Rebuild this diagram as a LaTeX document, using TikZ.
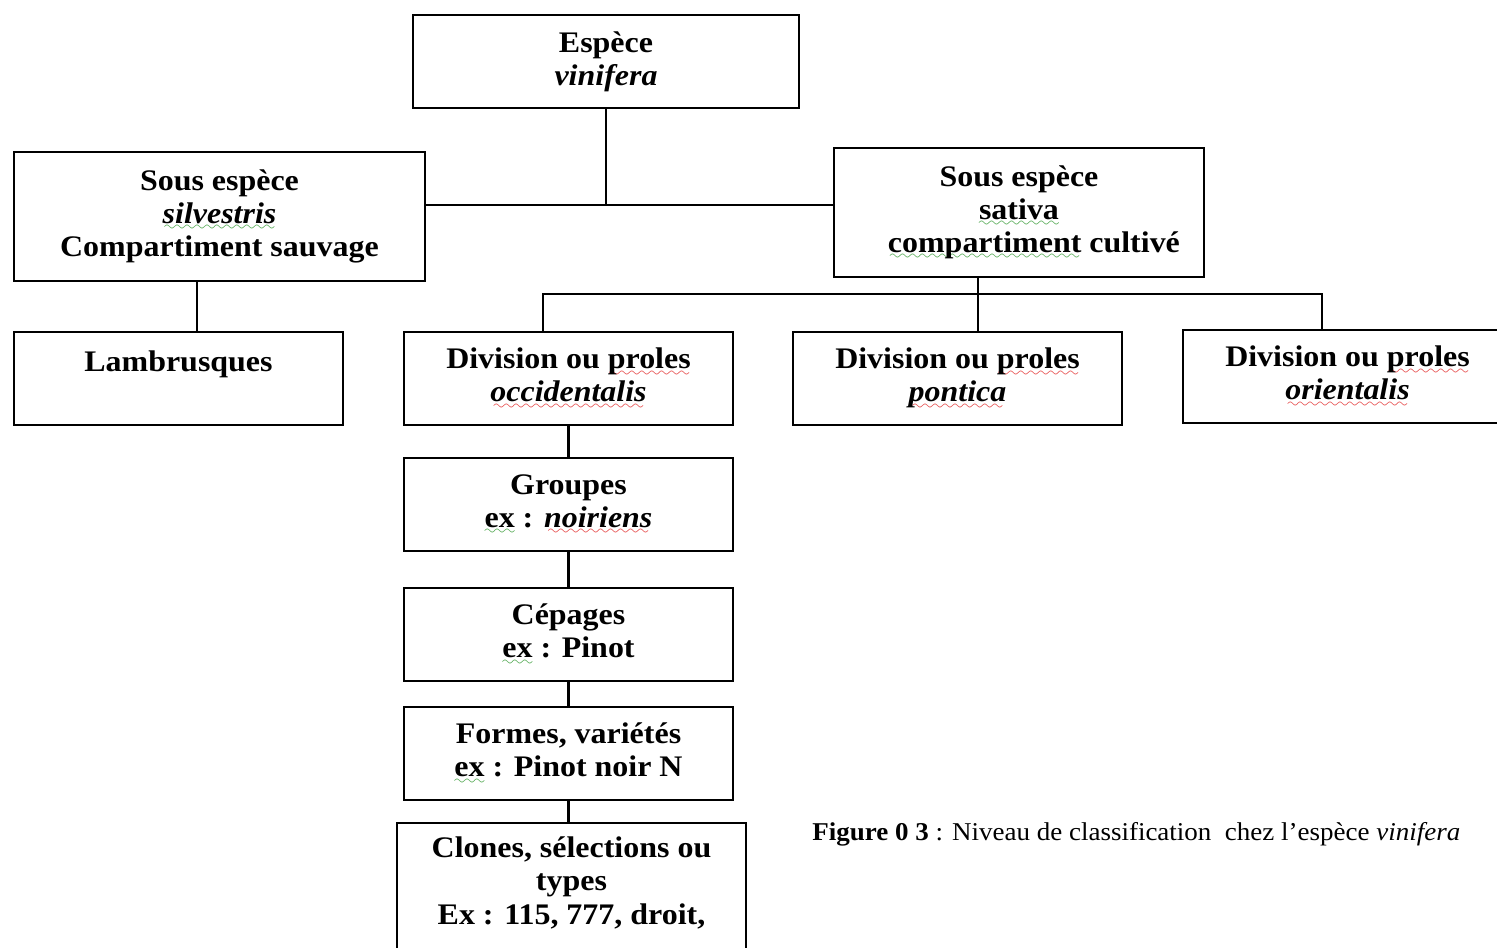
\documentclass[tikz,border=0pt]{standalone}
\usepackage{fontspec}
\setmainfont{Liberation Serif}[FakeStretch=1.07]
\usepackage{graphicx}
\definecolor{spellred}{RGB}{228,52,52}
\definecolor{spellgreen}{RGB}{64,160,64}
% wavy spell-check underline: a row of small wave glyphs under the word
\font\wavefont=lasy8
\newcommand\wavy[2]{\setbox0\hbox{#2}%
  \rlap{\textcolor{#1}{\lower4.2pt\hbox to \wd0{\cleaders\hbox{\wavefont\char58}\hfil}}}\box0\relax}
\newcommand\redwave[1]{\wavy{spellred}{#1}}
\newcommand\greenwave[1]{\wavy{spellgreen}{#1}}
\tikzset{
  box/.style={draw=black, line width=1.3pt, rectangle, align=center,
    font=\fontsize{17pt}{18.8pt}\selectfont\bfseries, inner sep=2pt,
    minimum width=6.58cm, minimum height=1.86cm},
  link/.style={draw=black, line width=1.3pt},
}
\begin{document}
\begin{tikzpicture}[x=0.02cm, y=-0.02cm]
\fill[white] (0,0) rectangle (1497,947);
\useasboundingbox (0,0) rectangle (1497,947);
\clip (0,0) rectangle (1497,947);

% top level
\node[box, minimum width=7.72cm] (esp) at (606,61.5) {Espèce\\\textit{vinifera}};

% sub-species
\node[box, minimum width=8.22cm, minimum height=2.58cm] (silv) at (219.5,216.5)
  {Sous espèce\\\greenwave{\itshape silvestris}\\Compartiment sauvage};
\node[box, minimum width=7.4cm, minimum height=2.58cm] (sat) at (1019,212.5)
  {Sous espèce\\\greenwave{sativa}\\\hspace*{1em}\greenwave{compartiment} cultivé};

% second row
\node[box] (lam) at (178.5,378.5) {Lambrusques\\[-4.6pt]\strut};
\node[box] (occ) at (568.5,378.5) {Division ou \redwave{proles}\\\redwave{\itshape occidentalis}};
\node[box] (pon) at (957.5,378.5) {Division ou \redwave{proles}\\\redwave{\itshape pontica}};
\node[box] (ori) at (1347.5,376.5) {Division ou \redwave{proles}\\\redwave{\itshape orientalis}};

% chain below occidentalis
\node[box] (grp) at (568.5,504.5) {Groupes\\\greenwave{ex} : \redwave{\itshape noiriens}};
\node[box] (cep) at (568.5,634.5) {Cépages\\\greenwave{ex} : Pinot};
\node[box] (frm) at (568.5,753.5) {Formes, variétés\\\greenwave{ex} : Pinot noir N};
\node[box, anchor=north, minimum width=6.98cm, minimum height=0pt, inner ysep=8pt] (clo) at (571.5,822)
  {Clones, sélections ou\\types\\Ex : 115, 777, droit,\\\strut};

% caption
\node[anchor=base west, inner sep=0pt, font=\fontsize{14.6pt}{17pt}\selectfont] (cap) at (812,840)
  {\resizebox{12.96cm}{\height}{\textbf{Figure 0 3} : Niveau de classification\ \ chez l’espèce \textit{vinifera}}};

% junction points
\coordinate (j) at (606,205);
\coordinate (lk) at (197,0);
\coordinate (b1) at (543,294);
\coordinate (b2) at (978,294);
\coordinate (b3) at (1322,294);

% connectors
\draw[link] (esp.south) -- (j);
\draw[link] (silv.east |- j) -- (sat.west |- j);
\draw[link] (silv.south -| lk) -- (lam.north -| lk);
\draw[link] (occ.north -| b1) -- (b1) -- (b3) -- (ori.north -| b3);
\draw[link] (sat.south -| b2) -- (pon.north -| b2);
\draw[link] (occ.south) -- (grp.north);
\draw[link] (grp.south) -- (cep.north);
\draw[link] (cep.south) -- (frm.north);
\draw[link] (frm.south) -- (frm.south |- clo.north);
\end{tikzpicture}
\end{document}
